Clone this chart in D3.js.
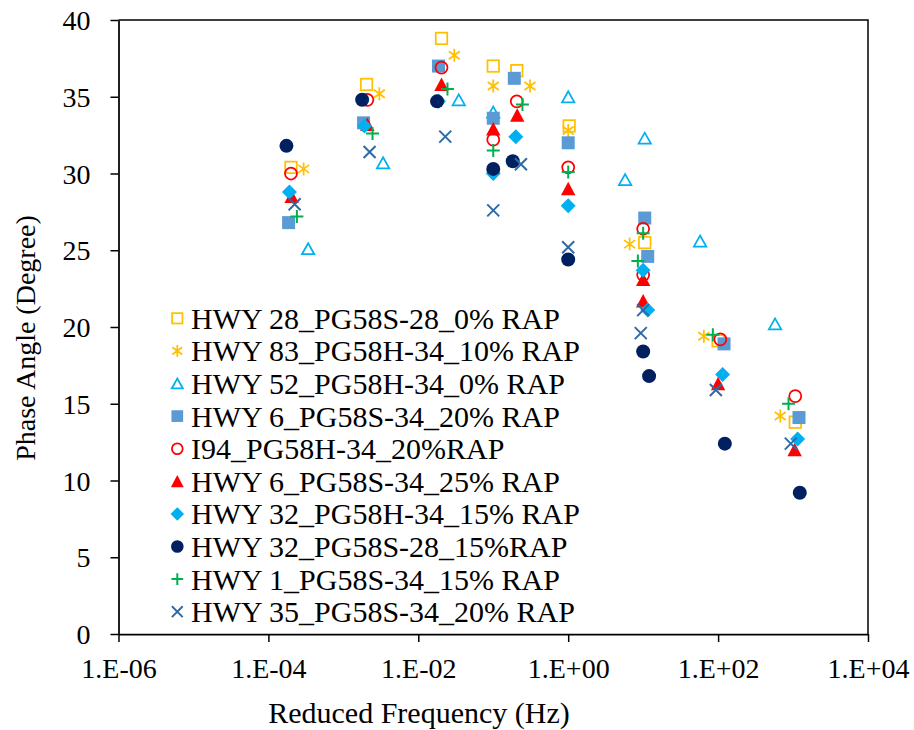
<!DOCTYPE html>
<html>
<head>
<meta charset="utf-8">
<script src="https://cdn.jsdelivr.net/npm/d3@7"></script>
<style>
  html, body { margin: 0; padding: 0; background: #fff; }
  svg { display: block; }
  text { font-family: "Liberation Serif", "Times New Roman", serif; fill: #000; }
</style>
</head>
<body>
<svg id="chart" width="914" height="730"></svg>
<script>
// ---------------- data ----------------
const seriesNames = [
  "HWY 28_PG58S-28_0% RAP",
  "HWY 83_PG58H-34_10% RAP",
  "HWY 52_PG58H-34_0% RAP",
  "HWY 6_PG58S-34_20% RAP",
  "I94_PG58H-34_20%RAP",
  "HWY 6_PG58S-34_25% RAP",
  "HWY 32_PG58H-34_15% RAP",
  "HWY 32_PG58S-28_15%RAP",
  "HWY 1_PG58S-34_15% RAP",
  "HWY 35_PG58S-34_20% RAP"
];
const seriesColors = ["#FFC000","#FFC000","#00B0F0","#5B9BD5","#FF0000","#FF0000","#00B0F0","#002060","#00B050","#2E6AA8"];
const seriesMarkers = ["openSquare","asterisk","openTriangle","square","openCircle","triangle","diamond","circle","plus","cross"];

const freqHwy28 = [2.0e-4, 2.04e-3, 2.04e-2, 0.100, 0.206, 1.03, 10.5, 100, 1070];
const phaseHwy28 = [30.4, 35.8, 38.8, 37.0, 36.7, 33.1, 25.5, 19.1, 13.8];

const freqHwy83 = [2.95e-4, 3.02e-3, 3.02e-2, 0.100, 0.309, 1.0, 6.6, 64.6, 676];
const phaseHwy83 = [30.3, 35.2, 37.7, 35.7, 35.7, 32.8, 25.4, 19.4, 14.2];

const freqHwy52 = [3.39e-4, 3.39e-3, 3.47e-2, 0.100, 1.0, 5.75, 10.5, 57.5, 575];
const phaseHwy52 = [25.1, 30.7, 34.8, 34.0, 35.0, 29.6, 32.3, 25.6, 20.2];

const freqHwy6a = [1.86e-4, 1.86e-3, 1.86e-2, 0.100, 0.191, 1.0, 10.5, 11.5, 120, 1200];
const phaseHwy6a = [26.8, 33.3, 37.0, 33.6, 36.2, 32.0, 27.1, 24.6, 18.9, 14.1];

const freqI94 = [2.0e-4, 2.09e-3, 2.04e-2, 0.100, 0.206, 1.0, 10.0, 10.0, 107, 1070];
const phaseI94 = [30.0, 34.8, 36.9, 32.2, 34.7, 30.4, 26.4, 23.4, 19.2, 15.5];

const freqHwy6b = [2.04e-4, 2.09e-3, 2.04e-2, 0.100, 0.209, 1.0, 10.0, 10.0, 100, 1050];
const phaseHwy6b = [28.5, 33.2, 35.8, 32.9, 33.8, 29.0, 23.1, 21.7, 16.3, 12.0];

const freqHwy32h = [1.91e-4, 1.91e-3, 1.86e-2, 0.100, 0.200, 1.0, 10.0, 11.5, 115, 1150];
const phaseHwy32h = [28.8, 33.1, 34.7, 30.0, 32.4, 27.9, 23.7, 21.1, 16.9, 12.7];

const freqHwy32s = [1.74e-4, 1.78e-3, 1.78e-2, 0.100, 0.182, 1.0, 10.0, 12.0, 123, 1230];
const phaseHwy32s = [31.8, 34.8, 34.7, 30.3, 30.8, 24.4, 18.4, 16.8, 12.4, 9.2];

const freqHwy1 = [2.4e-4, 2.45e-3, 2.45e-2, 0.100, 0.245, 1.0, 10.0, 8.5, 85.1, 871];
const phaseHwy1 = [27.2, 32.6, 35.5, 31.5, 34.5, 30.1, 26.1, 24.3, 19.5, 15.0];

const freqHwy35 = [2.24e-4, 2.24e-3, 2.29e-2, 0.100, 0.234, 1.0, 10.0, 9.3, 93.3, 933];
const phaseHwy35 = [28.0, 31.4, 32.4, 27.6, 30.6, 25.2, 21.1, 19.6, 15.9, 12.4];

const xTicks = [1e-6, 1e-4, 1e-2, 1e0, 1e2, 1e4];
const yTicks = [0, 5, 10, 15, 20, 25, 30, 35, 40];

const seriesFreqs = [freqHwy28, freqHwy83, freqHwy52, freqHwy6a, freqI94, freqHwy6b, freqHwy32h, freqHwy32s, freqHwy1, freqHwy35];
const seriesPhases = [phaseHwy28, phaseHwy83, phaseHwy52, phaseHwy6a, phaseI94, phaseHwy6b, phaseHwy32h, phaseHwy32s, phaseHwy1, phaseHwy35];

// ---------------- layout ----------------
const svg = d3.select("#chart");
const pLeft = 118.5, pRight = 868, pTop = 20, pBottom = 634;

const x = d3.scaleLog().domain([1e-6, 1e4]).range([pLeft, pRight]);
const y = d3.scaleLinear().domain([0, 40]).range([pBottom, pTop]);

// plot frame (top & right)
svg.append("path")
  .attr("d", `M${pLeft},${pTop}H${pRight}V${pBottom}`)
  .attr("fill", "none").attr("stroke", "#000").attr("stroke-width", 1.5);

const fmtX = v => {
  const e = Math.round(Math.log10(v));
  return "1.E" + (e < 0 ? "-" : "+") + String(Math.abs(e)).padStart(2, "0");
};

const xAxis = svg.append("g").attr("transform", `translate(0,${pBottom})`)
  .call(d3.axisBottom(x).tickValues(xTicks).tickFormat(fmtX).tickSizeInner(8).tickSizeOuter(0));
xAxis.select(".domain").attr("stroke", "#000").attr("stroke-width", 1.75);
xAxis.selectAll(".tick line").attr("stroke", "#000").attr("stroke-width", 1.5);
xAxis.selectAll(".tick text").attr("y", 44).attr("dy", 0)
  .style("font-size", "28px").style("font-family", "'Liberation Serif', serif").attr("fill", "#000");

const yAxis = svg.append("g").attr("transform", `translate(${pLeft},0)`)
  .call(d3.axisLeft(y).tickValues(yTicks).tickFormat(d3.format("d")).tickSizeInner(8).tickSizeOuter(0).tickPadding(20));
yAxis.select(".domain").attr("stroke", "#000").attr("stroke-width", 1.75);
yAxis.selectAll(".tick line").attr("stroke", "#000").attr("stroke-width", 1.5);
yAxis.selectAll(".tick text").attr("dy", "0.34em")
  .style("font-size", "28px").style("font-family", "'Liberation Serif', serif").attr("fill", "#000");

// axis titles
svg.append("text").attr("x", 419).attr("y", 723).attr("text-anchor", "middle")
  .style("font-size", "30px").text("Reduced Frequency (Hz)");
svg.append("text").attr("transform", "translate(35,338) rotate(-90)").attr("text-anchor", "middle")
  .style("font-size", "28px").text("Phase Angle (Degree)");

// ---------------- markers ----------------
function drawMarker(g, type, color, k) {
  k = k || 1;
  switch (type) {
    case "openSquare":
      g.append("rect").attr("x", -5.75 * k).attr("y", -5.75 * k).attr("width", 11.5 * k).attr("height", 11.5 * k)
        .attr("fill", "none").attr("stroke", color).attr("stroke-width", 1.75);
      break;
    case "square":
      g.append("rect").attr("x", -6.5 * k).attr("y", -6.5 * k).attr("width", 13 * k).attr("height", 13 * k)
        .attr("fill", color);
      break;
    case "asterisk":
      g.append("path").attr("d",
        `M0,${-6.5*k}V${6.5*k}M${-5.5*k},${-4*k}L${5.5*k},${4*k}M${-5.5*k},${4*k}L${5.5*k},${-4*k}`)
        .attr("fill", "none").attr("stroke", color).attr("stroke-width", 1.75);
      break;
    case "openTriangle":
      g.append("path").attr("d", `M0,${-5.5*k}L${6.2*k},${5.5*k}H${-6.2*k}Z`)
        .attr("fill", "none").attr("stroke", color).attr("stroke-width", 1.75);
      break;
    case "triangle":
      g.append("path").attr("d", `M0,${-7*k}L${7.2*k},${6.5*k}H${-7.2*k}Z`).attr("fill", color);
      break;
    case "openCircle":
      g.append("circle").attr("r", 6 * k).attr("fill", "none").attr("stroke", color).attr("stroke-width", 1.75);
      break;
    case "circle":
      g.append("circle").attr("r", 7 * k).attr("fill", color);
      break;
    case "diamond":
      g.append("path").attr("d", `M0,${-7.5*k}L${7.5*k},0L0,${7.5*k}L${-7.5*k},0Z`).attr("fill", color);
      break;
    case "plus":
      g.append("path").attr("d", `M0,${-6.5*k}V${6.5*k}M${-6.5*k},0H${6.5*k}`)
        .attr("fill", "none").attr("stroke", color).attr("stroke-width", 2);
      break;
    case "cross":
      g.append("path").attr("d", `M${-6*k},${-6*k}L${6*k},${6*k}M${-6*k},${6*k}L${6*k},${-6*k}`)
        .attr("fill", "none").attr("stroke", color).attr("stroke-width", 2);
      break;
  }
}

// points
seriesNames.forEach((name, i) => {
  const g = svg.append("g").attr("class", "series");
  const pts = seriesFreqs[i].map((f, j) => ({ f, v: seriesPhases[i][j] }));
  g.selectAll("g.pt").data(pts).enter().append("g").attr("class", "pt")
    .attr("transform", d => `translate(${x(d.f)},${y(d.v)})`)
    .each(function () { drawMarker(d3.select(this), seriesMarkers[i], seriesColors[i], 1); });
});

// legend
const legend = svg.append("g").attr("class", "legend");
seriesNames.forEach((name, i) => {
  const cy = 318.3 + i * 32.6;
  const m = legend.append("g").attr("transform", `translate(177.3,${cy})`);
  drawMarker(m, seriesMarkers[i], seriesColors[i], 0.9);
  legend.append("text").attr("x", 191).attr("y", cy + 10.5).style("font-size", "30px").text(name);
});
</script>
</body>
</html>
